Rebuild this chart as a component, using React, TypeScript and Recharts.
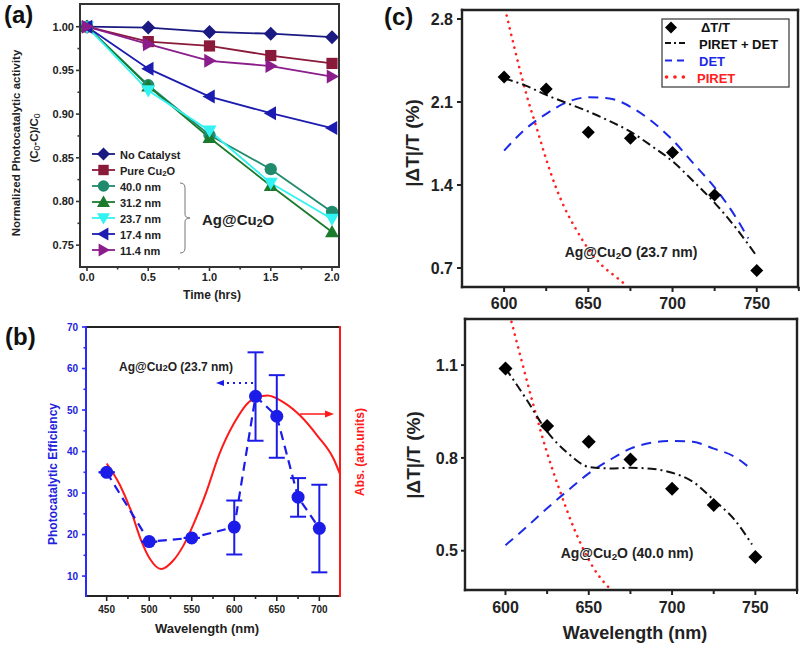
import React from "react";
import { ComposedChart, Line, XAxis, YAxis, ErrorBar } from "recharts";

const FONT = '"Liberation Sans", Arial, Helvetica, sans-serif';

// ---------- (a) photocatalytic activity vs time ----------
const timeHrs = [0, 0.5, 1.0, 1.5, 2.0];
const noCatalyst = [1.0, 0.999, 0.994, 0.992, 0.988];
const pureCu2O = [1.0, 0.983, 0.978, 0.967, 0.958];
const nm400 = [1.0, 0.933, 0.876, 0.837, 0.788];
const nm312 = [1.0, 0.932, 0.873, 0.818, 0.765];
const nm237 = [1.0, 0.927, 0.881, 0.821, 0.78];
const nm174 = [1.0, 0.952, 0.92, 0.901, 0.884];
const nm114 = [1.0, 0.98, 0.961, 0.955, 0.943];
const timeTicks = [0, 0.5, 1.0, 1.5, 2.0];
const activityTicks = [0.75, 0.8, 0.85, 0.9, 0.95, 1.0];

// ---------- (b) efficiency + absorbance vs wavelength ----------
const wlEff = [450, 500, 550, 600, 625, 650, 675, 700];
const effVal = [35.0, 18.3, 19.2, 21.8, 53.3, 48.5, 29.0, 21.5];
const effLow = [35.0, 18.3, 19.2, 15.2, 42.6, 38.5, 24.3, 10.9];
const effHigh = [35.0, 18.3, 19.2, 28.2, 63.9, 58.4, 33.6, 32.0];
const wlAbs = [450, 466, 478, 490, 501, 514, 528, 540, 552, 567, 582, 600, 619, 639, 658, 678, 698, 717, 725];
const absVal = [0.542, 0.451, 0.354, 0.232, 0.151, 0.11, 0.144, 0.205, 0.293, 0.424, 0.576, 0.708, 0.798, 0.82, 0.792, 0.736, 0.654, 0.559, 0.492];
const effTicks = [10, 20, 30, 40, 50, 60, 70];
const wlTicksB = [450, 500, 550, 600, 650, 700];
const absTicks = [0.1, 0.2, 0.3, 0.4, 0.5, 0.6, 0.7, 0.8, 0.9, 1.0];

// ---------- (c) |dT|/T vs wavelength ----------
const wlDt = [600, 625, 650, 675, 700, 725, 750];
const dtTop = [2.31, 2.21, 1.845, 1.795, 1.675, 1.315, 0.68];
const fitTopWl = [600, 612.5, 625, 637.5, 650, 662.5, 675, 687.5, 700, 712.5, 725, 737.5, 750];
const fitTopVal = [2.3, 2.24, 2.16, 2.09, 2.02, 1.94, 1.85, 1.73, 1.6, 1.43, 1.25, 1.04, 0.8];
const detTopWl = [600, 612.5, 625, 637.5, 650, 662.5, 675, 687.5, 700, 712.5, 725, 737.5, 745];
const detTopVal = [1.69, 1.87, 2.0, 2.1, 2.14, 2.13, 2.06, 1.94, 1.78, 1.58, 1.38, 1.13, 0.95];
const piretTopWl = [601.5, 610.5, 613.5, 618.5, 624.5, 630.5, 635.5, 643, 651, 659, 666, 672];
const piretTopVal = [2.83, 2.31, 2.15, 1.92, 1.64, 1.39, 1.22, 1.02, 0.84, 0.71, 0.63, 0.56];

const dtBot = [1.089, 0.903, 0.852, 0.795, 0.7, 0.648, 0.48];
const fitBotWl = [600, 612.5, 625, 637.5, 650, 662.5, 675, 687.5, 700, 712.5, 725, 737.5, 748];
const fitBotVal = [1.09, 0.99, 0.885, 0.815, 0.771, 0.766, 0.768, 0.765, 0.752, 0.723, 0.664, 0.6, 0.52];
const detBotWl = [600, 612.5, 625, 637.5, 650, 662.5, 675, 687.5, 700, 712.5, 725, 737.5, 747];
const detBotVal = [0.518, 0.576, 0.637, 0.695, 0.75, 0.793, 0.83, 0.849, 0.855, 0.852, 0.83, 0.804, 0.766];
const piretBotWl = [603.6, 609.6, 616.5, 624.5, 632.5, 642.4, 652.4, 663.4];
const piretBotVal = [1.24, 1.116, 0.976, 0.825, 0.696, 0.556, 0.448, 0.373];

const wlTicksC = [600, 650, 700, 750];
const dtTopTicks = [0.7, 1.4, 2.1, 2.8];
const dtBotTicks = [0.5, 0.8, 1.1];

type Shape = "diamond" | "square" | "circle" | "up" | "down" | "left" | "right";

const seriesA: { key: string; label: string; values: number[]; color: string; shape: Shape }[] = [
  { key: "noCat", label: "No Catalyst", values: noCatalyst, color: "#1a1a82", shape: "diamond" },
  { key: "pure", label: "Pure Cu2O", values: pureCu2O, color: "#8a1a3a", shape: "square" },
  { key: "n400", label: "40.0 nm", values: nm400, color: "#1f8a6c", shape: "circle" },
  { key: "n312", label: "31.2 nm", values: nm312, color: "#1c7a2c", shape: "up" },
  { key: "n237", label: "23.7 nm", values: nm237, color: "#33f2f2", shape: "down" },
  { key: "n174", label: "17.4 nm", values: nm174, color: "#1c1cb0", shape: "left" },
  { key: "n114", label: "11.4 nm", values: nm114, color: "#8b1c8b", shape: "right" },
];

const tableA = timeHrs.map((t, i) => {
  const row: any = { t };
  seriesA.forEach((s) => (row[s.key] = s.values[i]));
  return row;
});
const effData = wlEff.map((x, i) => ({ x, y: effVal[i], err: [effVal[i] - effLow[i], effHigh[i] - effVal[i]] }));
const absData = wlAbs.map((x, i) => ({ x, y: absVal[i] }));
const pairs = (xs: number[], ys: number[]) => xs.map((x, i) => ({ x, y: ys[i] }));

function Marker({ shape, cx, cy, s, fill }: { shape: Shape; cx: number; cy: number; s: number; fill: string }) {
  if (cx == null || cy == null) return null;
  const poly = (pts: number[][]) => (
    <polygon points={pts.map((p) => `${cx + p[0]},${cy + p[1]}`).join(" ")} fill={fill} />
  );
  switch (shape) {
    case "diamond":
      return poly([[0, -s], [s, 0], [0, s], [-s, 0]]);
    case "square":
      return <rect x={cx - s * 0.8} y={cy - s * 0.8} width={s * 1.6} height={s * 1.6} fill={fill} />;
    case "circle":
      return <circle cx={cx} cy={cy} r={s * 0.88} fill={fill} />;
    case "up":
      return poly([[0, -s], [s, s * 0.75], [-s, s * 0.75]]);
    case "down":
      return poly([[0, s], [s, -s * 0.75], [-s, -s * 0.75]]);
    case "left":
      return poly([[-s, 0], [s * 0.75, -s], [s * 0.75, s]]);
    default:
      return poly([[s, 0], [-s * 0.75, -s], [-s * 0.75, s]]);
  }
}

function chem(text: string) {
  const parts = text.split("Cu2O");
  return parts.map((p, i) => (
    <React.Fragment key={i}>
      {p}
      {i < parts.length - 1 && (
        <>
          Cu<sub style={{ fontSize: "0.7em", verticalAlign: "-0.2em", lineHeight: 0 }}>2</sub>O
        </>
      )}
    </React.Fragment>
  ));
}

function Txt({ x, y, size, color = "#222", rot = 0, anchor = "middle", children }: any) {
  const tx = anchor === "middle" ? "-50%" : anchor === "start" ? "0%" : "-100%";
  return (
    <div
      style={{
        position: "absolute",
        left: x,
        top: y,
        transform: `translate(${tx},-50%) rotate(${rot}deg)`,
        fontFamily: FONT,
        fontWeight: "bold",
        fontSize: size,
        color,
        whiteSpace: "nowrap",
        lineHeight: 1,
      }}
    >
      {children}
    </div>
  );
}

const range = (a: number, b: number, st: number) => {
  const out: number[] = [];
  for (let v = a; v <= b + 1e-9; v += st) out.push(Math.round(v * 1000) / 1000);
  return out;
};
const inList = (list: number[]) => (v: number) => list.some((t) => Math.abs(t - v) < 1e-6);

// hand-drawn ticks (tickSize/tickMargin 0 => x,y sit on the axis line)
type TickOpt = {
  side: "bottom" | "left" | "top" | "right";
  len: number;
  minor?: number;
  gap?: number;
  color: string;
  width?: number;
  isMajor?: (v: number) => boolean;
  fmt?: (v: number) => string;
  text?: { size: number; color: string };
};
function tickOf(o: TickOpt) {
  return (p: any) => {
    const v = p.payload.value;
    const major = o.isMajor ? o.isMajor(v) : true;
    const L = major ? o.len : o.minor ?? o.len * 0.6;
    const x = Number(p.x);
    const y = Number(p.y);
    const w = o.width ?? 1.6;
    const gap = o.gap ?? 3;
    const label = major && o.fmt && o.text ? o.fmt(v) : "";
    const tstyle: any = { fontFamily: FONT, fontWeight: "bold", fontSize: o.text?.size };
    let d = "";
    if (o.side === "bottom" || o.side === "top") d = `M${x},${y} V${y + L}`;
    else d = `M${x - L},${y} H${x}`;
    return (
      <g>
        <path d={d} stroke={o.color} strokeWidth={w} fill="none" />
        {label && o.side === "bottom" && (
          <text x={x} y={y + o.len + gap} dy="0.75em" textAnchor="middle" fill={o.text!.color} style={tstyle}>
            {label}
          </text>
        )}
        {label && o.side === "left" && (
          <text x={x - o.len - gap} y={y} dy="0.36em" textAnchor="end" fill={o.text!.color} style={tstyle}>
            {label}
          </text>
        )}
      </g>
    );
  };
}

// plot frame as stroked paths around the plot box (px of the panel div)
function Frame({ x, y, w, h, sw, c }: { x: number; y: number; w: number; h: number; sw: number; c: { top: string; right: string; bottom: string; left: string } }) {
  return (
    <svg style={{ position: "absolute", left: 0, top: 0, overflow: "visible" }} width={x + w + 10} height={y + h + 10}>
      <path d={`M${x},${y} H${x + w}`} stroke={c.top} strokeWidth={sw} fill="none" strokeLinecap="square" />
      <path d={`M${x},${y + h} H${x + w}`} stroke={c.bottom} strokeWidth={sw} fill="none" strokeLinecap="square" />
      <path d={`M${x},${y} V${y + h}`} stroke={c.left} strokeWidth={sw} fill="none" strokeLinecap="square" />
      <path d={`M${x + w},${y} V${y + h}`} stroke={c.right} strokeWidth={sw} fill="none" strokeLinecap="square" />
    </svg>
  );
}
const allSides = (c: string) => ({ top: c, right: c, bottom: c, left: c });

function PanelA() {
  const axis = "#333";
  const txt = { size: 11, color: "#222" };
  const xd: [number, number] = [-0.057, 2.057];
  const yd: [number, number] = [0.725, 1.026];
  const m = { top: 4, right: 6, left: 0, bottom: 0 };
  const W = 345, H = 305, yw = 80, xh = 38;
  return (
    <div style={{ position: "absolute", left: 0, top: 0 }}>
      <ComposedChart width={W} height={H} data={tableA} margin={m}>
        <XAxis
          dataKey="t"
          type="number"
          domain={xd}
          allowDataOverflow
          ticks={range(0, 2, 0.25)}
          interval={0}
          height={xh}
          tickSize={0}
          tickMargin={0}
          axisLine={false}
          tick={tickOf({ side: "bottom", len: 4, minor: 2.5, gap: 2, color: axis, isMajor: inList(timeTicks), fmt: (v) => v.toFixed(1), text: txt })}
        />
        <YAxis
          type="number"
          domain={yd}
          allowDataOverflow
          ticks={range(0.75, 1.0, 0.025)}
          interval={0}
          width={yw}
          tickSize={0}
          tickMargin={0}
          axisLine={false}
          tick={tickOf({ side: "left", len: 4, minor: 2.5, gap: 2, color: axis, isMajor: inList(activityTicks), fmt: (v) => v.toFixed(2), text: txt })}
        />
        {seriesA.map((s) => (
          <Line
            key={s.key}
            dataKey={s.key}
            type="linear"
            stroke={s.color}
            strokeWidth={1.8}
            isAnimationActive={false}
            dot={(p: any) => <Marker key={`${s.key}-${p.index}`} shape={s.shape} cx={p.cx} cy={p.cy} s={7} fill={s.color} />}
          />
        ))}
      </ComposedChart>
      <Frame x={m.left + yw} y={m.top} w={W - m.left - yw - m.right} h={H - m.top - xh} sw={2} c={allSides(axis)} />
      {seriesA.map((s, i) => (
        <React.Fragment key={s.key}>
          <svg style={{ position: "absolute", left: 91, top: 154 + i * 16 - 8 }} width={26} height={16}>
            <line x1={1} y1={8} x2={24} y2={8} stroke={s.color} strokeWidth={1.8} />
            <Marker shape={s.shape} cx={12.5} cy={8} s={6.5} fill={s.color} />
          </svg>
          <Txt x={120} y={155 + i * 16} size={11} anchor="start">
            {chem(s.label)}
          </Txt>
        </React.Fragment>
      ))}
      <svg style={{ position: "absolute", left: 176, top: 180 }} width={20} height={76}>
        <path d="M4 3 Q9 3 9 8 L9 34 Q9 38 14 38 Q9 38 9 42 L9 68 Q9 73 4 73" fill="none" stroke="#777" strokeWidth={1} />
      </svg>
      <Txt x={202} y={219} size={15} anchor="start">
        {chem("Ag@Cu2O")}
      </Txt>
      <Txt x={17} y={143} size={11.5} rot={-90}>
        Normalized Photocatalytic activity
      </Txt>
      <Txt x={35} y={138} size={11.5} rot={-90}>
        (C<sub style={{ fontSize: "0.75em", verticalAlign: "-0.2em", lineHeight: 0, fontWeight: "normal" }}>0</sub>-C)/C
        <sub style={{ fontSize: "0.75em", verticalAlign: "-0.2em", lineHeight: 0, fontWeight: "normal" }}>0</sub>
      </Txt>
      <Txt x={212} y={295} size={12}>
        Time (hrs)
      </Txt>
      <Txt x={4} y={15} size={24} anchor="start" color="#111">
        (a)
      </Txt>
    </div>
  );
}

function PanelB() {
  const blue = "#1c1ce8";
  const axBlue = "#2a2aff";
  const red = "#ff1a1a";
  const xd: [number, number] = [425.7, 724.3];
  const m = { top: 27, right: 12, left: 0, bottom: 0 };
  const W = 352, H = 340, yw = 86, xh = 44;
  return (
    <div style={{ position: "absolute", left: 0, top: 300, width: 360, height: 347 }}>
      <ComposedChart width={W} height={H} margin={m}>
        <XAxis
          dataKey="x"
          type="number"
          domain={xd}
          allowDataOverflow
          ticks={range(450, 700, 25)}
          interval={0}
          height={xh}
          tickSize={0}
          tickMargin={0}
          axisLine={false}
          tick={tickOf({ side: "bottom", len: 5, minor: 3, gap: 4, color: "#222", isMajor: inList(wlTicksB), fmt: String, text: { size: 10, color: "#222" } })}
        />
        <XAxis
          xAxisId="top"
          dataKey="x"
          type="number"
          orientation="top"
          domain={xd}
          allowDataOverflow
          ticks={wlTicksB}
          interval={0}
          height={0}
          tickSize={0}
          tickMargin={0}
          axisLine={false}
          tick={tickOf({ side: "top", len: 5, color: "#222" })}
        />
        <YAxis
          yAxisId="left"
          type="number"
          domain={[5.2, 70]}
          allowDataOverflow
          ticks={range(10, 70, 5)}
          interval={0}
          width={yw}
          tickSize={0}
          tickMargin={0}
          axisLine={false}
          tick={tickOf({ side: "left", len: 4, minor: 2.5, gap: 4, color: axBlue, isMajor: inList(effTicks), fmt: String, text: { size: 10, color: "#2222dd" } })}
        />
        <YAxis
          yAxisId="right"
          type="number"
          orientation="right"
          domain={[0, 1.1]}
          allowDataOverflow
          ticks={absTicks}
          interval={0}
          width={0}
          tickSize={0}
          tickMargin={0}
          axisLine={false}
          tick={tickOf({ side: "right", len: 5, color: red })}
        />
        <Line
          data={absData}
          yAxisId="right"
          dataKey="y"
          type="monotone"
          stroke={red}
          strokeWidth={2}
          dot={false}
          isAnimationActive={false}
        />
        <Line
          data={effData}
          yAxisId="left"
          dataKey="y"
          type="linear"
          stroke={blue}
          strokeWidth={2.2}
          strokeDasharray="9 6"
          dot={{ r: 6.5, fill: blue, stroke: blue, strokeWidth: 0 }}
          isAnimationActive={false}
        >
          <ErrorBar dataKey="err" direction="y" width={8} stroke={blue} strokeWidth={2} />
        </Line>
      </ComposedChart>
      <Frame
        x={m.left + yw}
        y={m.top}
        w={W - m.left - yw - m.right}
        h={H - m.top - xh}
        sw={2}
        c={{ top: "#222", right: red, bottom: "#222", left: axBlue }}
      />
      <svg style={{ position: "absolute", left: 0, top: 0 }} width={360} height={347}>
        <line x1={253} y1={83} x2={222} y2={83} stroke={blue} strokeWidth={2} strokeDasharray="2 4" />
        <polygon points="216,83 224,80 224,86" fill={blue} />
        <line x1={300} y1={114} x2={327} y2={114} stroke={red} strokeWidth={1.5} />
        <polygon points="334,114 325,110.5 325,117.5" fill={red} />
      </svg>
      <Txt x={176} y={67} size={12}>
        Ag@Cu<span style={{ fontSize: "0.75em" }}>2</span>O (23.7 nm)
      </Txt>
      <Txt x={53} y={174} size={12} rot={-90} color="#2222dd">
        Photocatalytic Efficiency
      </Txt>
      <Txt x={360} y={152} size={12} rot={-90} color={red}>
        Abs. (arb.units)
      </Txt>
      <Txt x={207} y={328} size={13}>
        Wavelength (nm)
      </Txt>
      <Txt x={5} y={37} size={24} anchor="start" color="#111">
        (b)
      </Txt>
    </div>
  );
}

function CurveSet({ dt, fitWl, fitVal, detWl, detVal, pirWl, pirVal, s }: any) {
  return [
    <Line
      key="pir"
      data={pairs(pirWl, pirVal)}
      dataKey="y"
      type="monotone"
      stroke="#ff2020"
      strokeWidth={2.6}
      strokeDasharray="0.1 6.5"
      strokeLinecap="round"
      dot={false}
      isAnimationActive={false}
    />,
    <Line
      key="det"
      data={pairs(detWl, detVal)}
      dataKey="y"
      type="monotone"
      stroke="#1c2ae8"
      strokeWidth={2}
      strokeDasharray="10 7"
      dot={false}
      isAnimationActive={false}
    />,
    <Line
      key="fit"
      data={pairs(fitWl, fitVal)}
      dataKey="y"
      type="monotone"
      stroke="#111"
      strokeWidth={2}
      strokeDasharray="9 4 2 4"
      dot={false}
      isAnimationActive={false}
    />,
    <Line
      key="dt"
      data={pairs(wlDt, dt)}
      dataKey="y"
      stroke="none"
      strokeWidth={0}
      isAnimationActive={false}
      dot={(p: any) => <Marker key={`d-${p.index}`} shape="diamond" cx={p.cx} cy={p.cy} s={s} fill="#000" />}
    />,
  ];
}

function PanelC() {
  const axis = "#222";
  const txt = { size: 16, color: "#222" };
  const xdTop: [number, number] = [575, 774.5];
  const ydTop: [number, number] = [0.54, 2.876];
  const xdBot: [number, number] = [575.7, 775];
  const ydBot: [number, number] = [0.373, 1.249];
  const mT = { top: 10, right: 2, left: 0, bottom: 0 };
  const mB = { top: 9, right: 3, left: 0, bottom: 0 };
  return (
    <>
      <div style={{ position: "absolute", left: 400, top: 0 }}>
        <ComposedChart width={400} height={315} margin={mT}>
          <XAxis
            dataKey="x"
            type="number"
            domain={xdTop}
            allowDataOverflow
            ticks={range(600, 775, 25)}
            interval={0}
            height={28}
            tickSize={0}
            tickMargin={0}
            axisLine={false}
            tick={tickOf({ side: "bottom", len: 5, minor: 4, gap: 5, color: axis, width: 2, isMajor: inList(wlTicksC), fmt: String, text: txt })}
          />
          <YAxis
            type="number"
            domain={ydTop}
            allowDataOverflow
            ticks={dtTopTicks}
            interval={0}
            width={62}
            tickSize={0}
            tickMargin={0}
            axisLine={false}
            tick={tickOf({ side: "left", len: 5, gap: 4, color: axis, width: 2, fmt: (v) => v.toFixed(1), text: txt })}
          />
          {CurveSet({
            dt: dtTop,
            fitWl: fitTopWl,
            fitVal: fitTopVal,
            detWl: detTopWl,
            detVal: detTopVal,
            pirWl: piretTopWl,
            pirVal: piretTopVal,
            s: 6.5,
          })}
        </ComposedChart>
        <Frame x={62} y={10} w={400 - 62 - 2} h={315 - 10 - 28} sw={2.4} c={allSides(axis)} />
      </div>
      <div style={{ position: "absolute", left: 400, top: 310 }}>
        <ComposedChart width={400} height={337} margin={mB}>
          <XAxis
            dataKey="x"
            type="number"
            domain={xdBot}
            allowDataOverflow
            ticks={range(600, 775, 25)}
            interval={0}
            height={57}
            tickSize={0}
            tickMargin={0}
            axisLine={false}
            tick={tickOf({ side: "bottom", len: 5, minor: 4, gap: 6, color: axis, width: 2, isMajor: inList(wlTicksC), fmt: String, text: txt })}
          />
          <XAxis
            xAxisId="top"
            dataKey="x"
            type="number"
            orientation="top"
            domain={xdBot}
            allowDataOverflow
            ticks={range(600, 775, 25)}
            interval={0}
            height={0}
            tickSize={0}
            tickMargin={0}
            axisLine={false}
            tick={tickOf({ side: "top", len: 4, color: axis, width: 2 })}
          />
          <YAxis
            type="number"
            domain={ydBot}
            allowDataOverflow
            ticks={dtBotTicks}
            interval={0}
            width={65}
            tickSize={0}
            tickMargin={0}
            axisLine={false}
            tick={tickOf({ side: "left", len: 4, gap: 3, color: axis, width: 2, fmt: (v) => v.toFixed(1), text: txt })}
          />
          {CurveSet({
            dt: dtBot,
            fitWl: fitBotWl,
            fitVal: fitBotVal,
            detWl: detBotWl,
            detVal: detBotVal,
            pirWl: piretBotWl,
            pirVal: piretBotVal,
            s: 7,
          })}
        </ComposedChart>
        <Frame x={65} y={9} w={400 - 65 - 3} h={337 - 9 - 57} sw={2.4} c={allSides(axis)} />
      </div>
      {/* legend */}
      <svg style={{ position: "absolute", left: 660, top: 18 }} width={132} height={72}>
        <rect x={2} y={1} width={127} height={68} fill="#fff" stroke="#444" strokeWidth={1.3} />
        <polygon points="11,3.5 17,9.5 11,15.5 5,9.5" fill="#000" />
        <line x1={5} y1={25} x2={25} y2={25} stroke="#111" strokeWidth={2} strokeDasharray="6 3 2 3" />
        <line x1={5} y1={42.5} x2={25} y2={42.5} stroke="#1c2ae8" strokeWidth={2} strokeDasharray="7 5" />
        <line x1={6.5} y1={59} x2={25} y2={59} stroke="#ff2020" strokeWidth={3.6} strokeDasharray="0.1 8.3" strokeLinecap="round" />
      </svg>
      <Txt x={701} y={27} size={13} anchor="start" color="#111">
        ΔT/T
      </Txt>
      <Txt x={699} y={43.5} size={13} anchor="start" color="#111">
        PIRET + DET
      </Txt>
      <Txt x={699} y={61} size={13} anchor="start" color="#1c2ae8">
        DET
      </Txt>
      <Txt x={697} y={77.5} size={13} anchor="start" color="#ff2020">
        PIRET
      </Txt>
      <Txt x={631} y={252} size={14}>
        {chem("Ag@Cu2O (23.7 nm)")}
      </Txt>
      <Txt x={627} y={553} size={14}>
        {chem("Ag@Cu2O (40.0 nm)")}
      </Txt>
      <Txt x={412} y={143} size={19} rot={-90}>
        |ΔT|/T (%)
      </Txt>
      <Txt x={413} y={455} size={19} rot={-90}>
        |ΔT|/T (%)
      </Txt>
      <Txt x={635} y={633} size={18}>
        Wavelength (nm)
      </Txt>
      <Txt x={384} y={17} size={24} anchor="start" color="#111">
        (c)
      </Txt>
    </>
  );
}

export default function App() {
  return (
    <div style={{ position: "absolute", left: 0, top: 0, width: 803, height: 647, background: "#fff", overflow: "hidden" }}>
      <PanelA />
      <PanelB />
      <PanelC />
    </div>
  );
}
